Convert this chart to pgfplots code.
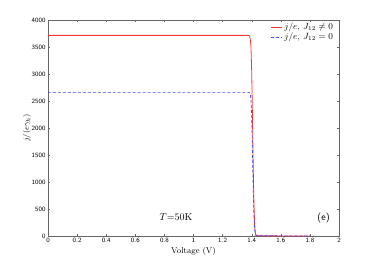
\documentclass[border=0pt]{standalone}
\usepackage{pgfplots}
\pgfplotsset{compat=1.18}
\definecolor{myred}{rgb}{1,0.2,0.2}
\definecolor{myblue}{rgb}{0.25,0.3,1}
\begin{document}
\begin{tikzpicture}
\begin{axis}[
  at={(0,0)}, anchor=south west,
  scale only axis, width=291bp, height=216bp,
  xmin=0, xmax=2, ymin=0, ymax=4000,
  xtick={0,0.2,...,2}, ytick={0,500,...,4000},
  xticklabels={0,0.2,0.4,0.6,0.8,1,1.2,1.4,1.6,1.8,2},
  scaled y ticks=false,
  yticklabel style={/pgf/number format/1000 sep={}},
  tick align=inside,
  major tick length=2.5bp,
  axis line style={gray!80!black},
  every tick/.style={gray!80!black},
  tick label style={font=\sffamily\fontsize{6.5}{7}\selectfont},
  /pgf/number format/assume math mode=true,
  xticklabel style={yshift=1bp},
  yticklabel style={xshift=1bp},
  xlabel={Voltage (V)}, ylabel={$j/(e\gamma_h)$},
  label style={font=\fontsize{8.5}{9}\selectfont},
  xlabel style={yshift=3bp},
  ylabel style={yshift=-6bp},
  legend style={draw=none, fill=none, at={(0.99,1)}, anchor=north east,
    font=\fontsize{9}{10}\selectfont, inner sep=1bp, row sep=-2.5bp},
  legend cell align=left,
  legend image code/.code={\draw[#1, line width=1pt] (0bp,0bp) -- (11bp,0bp);},
]
\addplot[color=myred, line width=0.8pt] coordinates {
(0,3715) (1.37,3715) (1.38,3712) (1.385,3700) (1.39,3650) (1.395,3500) (1.40,3050)
(1.405,2250) (1.41,1350) (1.415,650) (1.42,220) (1.425,60) (1.43,15) (1.45,3) (1.8,0)};
\addlegendentry{$j/e$, $J_{12}\neq 0$}
\addplot[color=myblue, densely dashed, line width=0.7pt] coordinates {
(0,2660) (1.38,2660) (1.385,2655) (1.39,2630) (1.395,2540) (1.40,2200) (1.405,1600)
(1.41,900) (1.415,400) (1.42,120) (1.425,30) (1.43,5) (1.8,0)};
\addlegendentry{$j/e$, $J_{12}=0$}
\node[anchor=base, font=\fontsize{10}{11}\selectfont] at (axis cs:0.88,280) {$T$=50K};
\node[anchor=base east, font=\sffamily\fontsize{10}{11}\selectfont] at (axis cs:1.96,280) {(e)};
\end{axis}
\useasboundingbox (-48bp,-30bp) rectangle (326bp,236bp);
\end{tikzpicture}
\end{document}
